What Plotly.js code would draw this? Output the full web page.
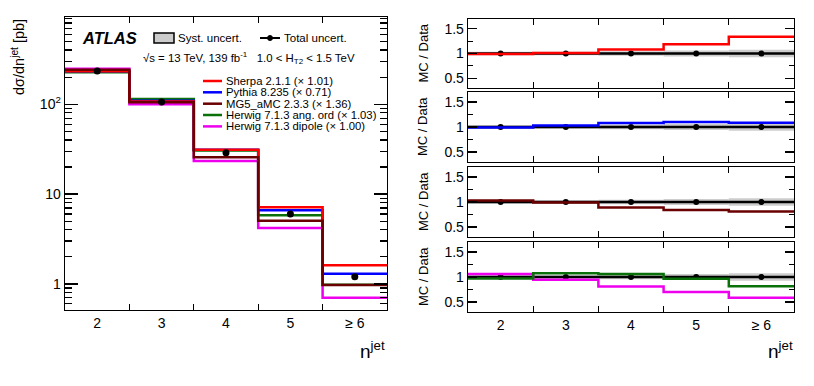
<!DOCTYPE html>
<html>
<head>
<meta charset="utf-8">
<script src="https://cdn.plot.ly/plotly-3.0.1.min.js"></script>
<style>
  body { margin: 0; background: #fff; }
  #chart { width: 814px; height: 386px; }
</style>
</head>
<body>
<div id="chart"></div>
<script>
// n-jet bins
var categories = ["2", "3", "4", "5", "\u2265 6"];
var binCentres = [2, 3, 4, 5, 6];
var binEdges = [1.5, 2.5, 3.5, 4.5, 5.5, 6.5];

// measured cross section [pb] and relative uncertainties
var dataXs = [234, 106, 28.8, 6.0, 1.2];
var totalErr = [0.012, 0.012, 0.02, 0.03, 0.045];
var systErr = [0.035, 0.035, 0.045, 0.06, 0.075];

// MC predictions (already scaled) [pb]
var sherpa = [232, 107, 31.1, 7.14, 1.61];
var pythia = [232, 109, 31.1, 6.6, 1.30];
var mg5 = [241, 105, 25.6, 5.04, 0.97];
var herwigAng = [227, 114, 30.5, 5.8, 0.98];
var herwigDip = [248, 100, 23.3, 4.2, 0.70];

var mcLabels = ["Sherpa 2.1.1 (\u00d7 1.01)", "Pythia 8.235 (\u00d7 0.71)", "MG5_aMC 2.3.3 (\u00d7 1.36)",
  "Herwig 7.1.3 ang. ord (\u00d7 1.03)", "Herwig 7.1.3 dipole (\u00d7 1.00)"];
var mcColors = ["#ff0000", "#0000ff", "#6a0000", "#0a700a", "#ee00ee"];
var mcSets = [sherpa, pythia, mg5, herwigAng, herwigDip];
// which ratio panel each MC goes in
var mcPanel = [2, 3, 4, 5, 5];

var W = 814, H = 386;
function px(x) { return x / W; }
function py(y) { return 1 - y / H; }
function stepY(v) { return v.concat([v[v.length - 1]]); }

var font = "Liberation Sans, Arial, sans-serif";
var traces = [];

// main panel: MC steps (drawn in back-to-front order)
var mainOrder = [4, 3, 1, 0, 2];
mainOrder.forEach(function (k) {
  traces.push({
    x: binEdges, y: stepY(mcSets[k]), xaxis: "x", yaxis: "y",
    mode: "lines", line: {shape: "hv", color: mcColors[k], width: 2.5},
    hoverinfo: "skip", showlegend: false
  });
});
traces.push({
  x: binCentres, y: dataXs, xaxis: "x", yaxis: "y", mode: "markers",
  marker: {color: "black", size: 7},
  error_y: {type: "data", array: dataXs.map(function (v, i) { return v * totalErr[i]; }), color: "black", thickness: 2, width: 0},
  showlegend: false
});

// ratio panels
for (var p = 2; p <= 5; p++) {
  traces.push({
    type: "bar", x: binCentres, y: systErr.map(function (e) { return 2 * e; }),
    base: systErr.map(function (e) { return 1 - e; }), width: 1,
    marker: {color: "#cccccc", line: {width: 0}}, xaxis: "x" + p, yaxis: "y" + p,
    hoverinfo: "skip", showlegend: false
  });
  traces.push({
    x: [binEdges[0], binEdges[binEdges.length - 1]], y: [1, 1], xaxis: "x" + p, yaxis: "y" + p,
    mode: "lines", line: {color: "black", width: 2.5}, hoverinfo: "skip", showlegend: false
  });
  traces.push({
    x: binCentres, y: binCentres.map(function () { return 1; }), xaxis: "x" + p, yaxis: "y" + p,
    mode: "markers", marker: {color: "black", size: 6},
    error_y: {type: "data", array: totalErr, color: "black", thickness: 2, width: 0},
    showlegend: false
  });
}
[4, 3, 0, 1, 2].forEach(function (k) {
  var ratio = mcSets[k].map(function (v, i) { return v / dataXs[i]; });
  traces.push({
    x: binEdges, y: stepY(ratio), xaxis: "x" + mcPanel[k], yaxis: "y" + mcPanel[k],
    mode: "lines", line: {shape: "hv", color: mcColors[k], width: 2.5},
    hoverinfo: "skip", showlegend: false
  });
});

// axes
var minorLog = [];
[0.1, 1, 10, 100].forEach(function (d) {
  for (var m = 2; m <= 9; m++) minorLog.push(m * d);
});

function xAxis(dom, anchor, labels) {
  return {
    domain: dom, anchor: anchor, range: [1.5, 6.5],
    tickmode: "array", tickvals: binCentres, ticktext: categories,
    ticks: "", showticklabels: labels,
    minor: {tickmode: "array", tickvals: binEdges.slice(1, -1), ticks: "inside", ticklen: 6, tickwidth: 1.2, tickcolor: "black"},
    showline: true, linecolor: "black", linewidth: 1.3, mirror: "allticks",
    showgrid: false, zeroline: false,
    tickfont: {family: font, size: 14, color: "black"}
  };
}
function ratioY(dom, anchor) {
  return {
    domain: dom, anchor: anchor, range: [0.3, 1.7],
    tickmode: "array", tickvals: [0.5, 1, 1.5], ticktext: ["0.5", "1", "1.5"],
    ticks: "inside", ticklen: 9, tickwidth: 1.2, tickcolor: "black",
    minor: {tickmode: "array", tickvals: [0.75, 1.25], ticks: "inside", ticklen: 5, tickwidth: 1.2, tickcolor: "black"},
    showline: true, linecolor: "black", linewidth: 1.3, mirror: "allticks",
    showgrid: false, zeroline: false,
    tickfont: {family: font, size: 14, color: "black"}
  };
}

var mainX = [px(65), px(387)];
var ratX = [px(468), px(794)];
var ratDom = [[py(88), py(19)], [py(162), py(92)], [py(237), py(167)], [py(312), py(242)]];

var layout = {
  width: W, height: H,
  margin: {l: 0, r: 0, t: 0, b: 0},
  paper_bgcolor: "white", plot_bgcolor: "white",
  barmode: "overlay",
  font: {family: font, color: "black"},
  xaxis: xAxis(mainX, "y", true),
  yaxis: {
    domain: [py(310), py(17)], anchor: "x", type: "log", range: [-0.29, 2.97],
    tickmode: "array", tickvals: [1, 10, 100], ticktext: ["1", "10", "10<sup>2</sup>"],
    ticks: "inside", ticklen: 13, tickwidth: 1.2, tickcolor: "black",
    minor: {tickmode: "array", tickvals: minorLog, ticks: "inside", ticklen: 7, tickwidth: 1.2, tickcolor: "black"},
    showline: true, linecolor: "black", linewidth: 1.3, mirror: "allticks",
    showgrid: false, zeroline: false,
    tickfont: {family: font, size: 14, color: "black"}
  },
  xaxis2: xAxis(ratX, "y2", false), yaxis2: ratioY(ratDom[0], "x2"),
  xaxis3: xAxis(ratX, "y3", false), yaxis3: ratioY(ratDom[1], "x3"),
  xaxis4: xAxis(ratX, "y4", false), yaxis4: ratioY(ratDom[2], "x4"),
  xaxis5: xAxis(ratX, "y5", true), yaxis5: ratioY(ratDom[3], "x5"),
  shapes: [], annotations: []
};

function note(text, x, y, size, opts) {
  var a = {
    text: text, x: px(x), y: py(y), xref: "paper", yref: "paper",
    showarrow: false, xanchor: "left", yanchor: "middle",
    font: {family: font, size: size, color: "black"}
  };
  for (var k in opts) a[k] = opts[k];
  layout.annotations.push(a);
}

// titles
note("d\u03c3/dn<sup>jet</sup> [pb]", 18, 17, 14.5, {textangle: -90, xanchor: "center", yanchor: "top"});
note("n<sup>jet</sup>", 387, 350, 19, {xanchor: "right"});
note("n<sup>jet</sup>", 795, 350, 19, {xanchor: "right"});
ratDom.forEach(function (d) {
  note("MC / Data", 423, H * (1 - (d[0] + d[1]) / 2), 13, {textangle: -90, xanchor: "center"});
});

// header
note("<b><i>ATLAS</i></b>", 80, 38, 16.5);
layout.shapes.push({type: "rect", xref: "paper", yref: "paper", x0: px(154), x1: px(174), y0: py(43), y1: py(33),
  fillcolor: "#cccccc", line: {color: "black", width: 1.5}});
note("Syst. uncert.", 176, 38, 11.5);
layout.shapes.push({type: "line", xref: "paper", yref: "paper", x0: px(260), x1: px(280), y0: py(38), y1: py(38),
  line: {color: "black", width: 2}});
layout.shapes.push({type: "circle", xref: "paper", yref: "paper", x0: px(267.5), x1: px(272.5), y0: py(40.5), y1: py(35.5),
  fillcolor: "black", line: {color: "black", width: 1}});
note("Total uncert.", 282, 38, 11.5);
note("\u221as = 13 TeV, 139 fb<sup>-1</sup>   1.0 &lt; H<sub>T2</sub> &lt; 1.5 TeV", 141, 58, 11.4);

// MC legend
var legY = [81, 92.3, 103.7, 115, 126.4];
mcLabels.forEach(function (lab, k) {
  layout.shapes.push({type: "line", xref: "paper", yref: "paper", x0: px(203), x1: px(222), y0: py(legY[k]), y1: py(legY[k]),
    line: {color: mcColors[k], width: 2.5}});
  note(lab, 223.5, legY[k], 11.3);
});

Plotly.newPlot("chart", traces, layout, {displayModeBar: false, staticPlot: true});
</script>
</body>
</html>
